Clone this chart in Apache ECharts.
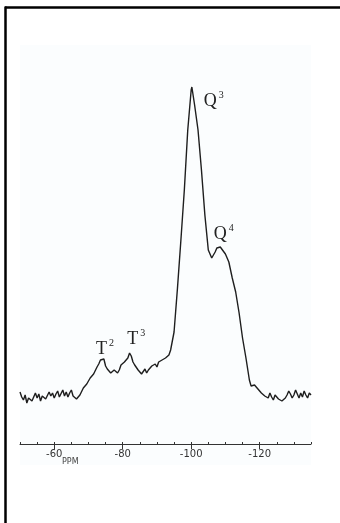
<!DOCTYPE html>
<html>
<head>
<meta charset="utf-8">
<style>html,body{margin:0;padding:0;background:#fff;}#c{width:340px;height:523px;}</style>
<script src="https://cdn.jsdelivr.net/npm/echarts@6/dist/echarts.min.js"></script>
</head>
<body>
<div id="c"></div>
<script>
// chemical shift (ppm) and intensity (arbitrary units)
const ppm = [
  -50,-50.5,-51,-51.5,-52,-52.5,-53,-53.5,-54,-54.5,-55,-55.5,-56,-56.5,-57,-57.5,-58,-58.5,-59,-59.5,
  -60,-60.5,-61,-61.5,-62,-62.5,-63,-63.5,-64,-64.5,-65,-65.5,-66,-66.5,-67,-67.5,-68,-68.5,-69,-69.5,
  -70,-70.5,-71,-71.5,-72,-72.5,-73,-73.5,-74,-74.5,-75,-75.5,-76,-76.5,-77,-77.5,-78,-78.5,-79,-79.5,
  -80,-80.5,-81,-81.5,-82,-82.5,-83,-83.5,-84,-84.5,-85,-85.5,-86,-86.5,-87,-87.5,-88,-88.5,-89,-89.5,
  -90,-90.5,-91,-91.5,-92,-92.5,-93,-93.5,-94,
  -95,-96,-97,-98,-99,-100,-100.2,-101,-102,-103,-104,-105,-105.5,-106,-106.5,-107,-107.5,-108,-108.5,-109,-110,
  -111,-112,-113,-114,-115,-116,
  -117,-117.5,-118,-118.5,-119,-119.5,-120,-120.5,-121,-121.5,-122,-122.5,-123,-123.5,-124,-124.5,
  -125,-125.5,-126,-126.5,-127,-127.5,-128,-128.5,-129,-129.5,-130,-130.5,-131,-131.5,-132,-132.5,
  -133,-133.5,-134,-134.5,-135];
const intensity = [
  52,47,44,49,41,46,48,43,47,51,46,50,43,48,50,45,47,52,48,51,
  46,50,53,47,49,54,48,52,47,51,54,48,50,45,43,49,51,56,54,60,
  61,66,64,70,72,77,80,84,82,85,78,75,77,71,69,74,75,71,74,79,
  77,82,83,86,91,88,82,79,77,74,73,70,72,75,71,74,73,78,76,80,
  77,82,81,84,83,86,87,89,94,
  112,156,204,254,314,354,357,339,314,274,229,194,190,186,189,192,196,198,197,196,190,
  182,166,152,131,106,86,
  64,58,56,59,57,55,56,51,53,48,50,46,51,47,44,49,
  50,45,47,43,42,46,49,53,50,46,49,54,50,46,51,47,
  53,49,46,51,49];
const majorTicks = [-60,-80,-100,-120];
const minorTicks = [-50,-55,-60,-65,-70,-75,-80,-85,-90,-95,-100,-105,-110,-115,-120,-125,-130,-135];
const peakLabels = [
  {base:'Q', sup:'3', coord:[-103.7,344]},
  {base:'Q', sup:'4', coord:[-106.6,211]},
  {base:'T', sup:'2', coord:[-72.2,96]},
  {base:'T', sup:'3', coord:[-81.3,106]}
];

const chart = echarts.init(document.getElementById('c'));
const seriesData = ppm.map((p,i)=>[p,intensity[i]]);
chart.setOption({
  animation:false,
  backgroundColor:'#ffffff',
  graphic:[
    {type:'rect', shape:{x:20,y:45,width:291,height:420}, style:{fill:'#fbfdfe'}, z:-10, silent:true},
    {type:'line', shape:{x1:5,y1:7.5,x2:340,y2:7.5}, style:{stroke:'#000',lineWidth:2.5}},
    {type:'line', shape:{x1:5.5,y1:6.5,x2:5.5,y2:523}, style:{stroke:'#000',lineWidth:2.5}},
    {type:'text', left:62, top:458, style:{text:'PPM', fontSize:8, fontFamily:'DejaVu Sans', fill:'#444'}}
  ],
  grid:{left:20,right:29,top:84,bottom:79},
  xAxis:[{
    type:'value', inverse:true, min:-135, max:-50,
    axisLine:{show:true, lineStyle:{color:'#333',width:1}},
    axisTick:{show:true, customValues:majorTicks, length:5, lineStyle:{color:'#333'}},
    axisLabel:{show:true, customValues:majorTicks, margin:5, fontSize:10, fontFamily:'DejaVu Sans', color:'#333',
      formatter:v=>String(v)},
    splitLine:{show:false}
  },{
    type:'value', inverse:true, min:-135, max:-50, position:'bottom',
    axisLine:{show:false},
    axisTick:{show:true, inside:true, customValues:minorTicks, length:2, lineStyle:{color:'#333'}},
    axisLabel:{show:false},
    splitLine:{show:false}
  }],
  yAxis:{type:'value', min:0, max:360, show:false, splitLine:{show:false}},
  series:[{
    type:'line', xAxisIndex:0, data:seriesData, symbol:'none', smooth:false,
    lineStyle:{color:'#1e1e1e', width:1.4},
    markPoint:{
      symbol:'circle', symbolSize:0.01,
      data:peakLabels.map(l=>({coord:l.coord, value:l.base+l.sup, lbl:l})),
      label:{
        show:true, position:'inside', align:'left', verticalAlign:'middle',
        formatter:p=>'{b|'+p.data.lbl.base+'}{s|'+p.data.lbl.sup+'}',
        rich:{
          b:{fontSize:18, fontFamily:'Liberation Serif', color:'#222', lineHeight:20, verticalAlign:'bottom'},
          s:{fontSize:10, fontFamily:'Liberation Serif', color:'#222', lineHeight:20, verticalAlign:'top', padding:[0,0,8,2]}
        }
      }
    }
  }]
});
</script>
</body>
</html>
